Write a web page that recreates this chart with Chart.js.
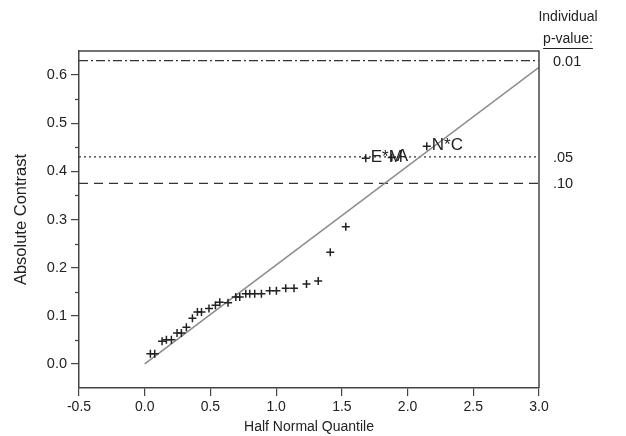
<!DOCTYPE html>
<html>
<head>
<meta charset="utf-8">
<script src="https://cdn.jsdelivr.net/npm/chart.js@4"></script>
<style>
html,body{margin:0;padding:0;background:#fff}
#wrap{width:626px;height:436px}
</style>
</head>
<body>
<div id="wrap"><canvas id="halfNormal"></canvas></div>
<script>
// contrast estimates vs half normal quantiles
const quantiles = [0.043,0.076,0.132,0.165,0.203,0.246,0.279,0.317,0.363,0.401,0.432,0.489,0.538,0.571,0.634,0.693,0.723,0.769,0.799,0.837,0.888,0.951,1.002,1.073,1.136,1.231,1.320,1.412,1.530,1.682,1.880,2.146]
const contrasts = [0.021,0.021,0.047,0.050,0.050,0.064,0.064,0.076,0.095,0.108,0.108,0.115,0.122,0.128,0.127,0.139,0.139,0.146,0.146,0.146,0.146,0.152,0.152,0.157,0.157,0.166,0.172,0.232,0.285,0.427,0.429,0.452]
const effectNames = ["","","","","","","","","","","","","","","","","","","","","","","","","","","","","","E*M","A","N*C"]

// reference line through origin
const fitX = [0, 3.0]
const fitY = [0, 0.616]

// individual p-value cutoffs
const cutLabels = ["0.01", ".05", ".10"]
const cutValues = [0.630, 0.430, 0.375]
const cutDash = [[9,3,2,3],[2,3],[9,6]]

const xTicks = [-0.5,0.0,0.5,1.0,1.5,2.0,2.5,3.0]
const yTicks = [0.0,0.1,0.2,0.3,0.4,0.5,0.6]
const yMinorTicks = [0.05,0.15,0.25,0.35,0.45,0.55]

const ink = "#222"
const axisInk = "#444"
const FONT = "'Liberation Sans', Arial, sans-serif"

const points = quantiles.map((q,i)=>({x:q,y:contrasts[i]}))

const datasets = [{
type:"line",
data:fitX.map((x,i)=>({x:x,y:fitY[i]})),
borderColor:"#8c8c8c",
borderWidth:1.6,
pointRadius:0,
order:2
}]

cutValues.forEach((v,i)=>{
datasets.push({
type:"line",
data:[{x:-0.5,y:v},{x:3.0,y:v}],
borderColor:"#333",
borderWidth:1.3,
borderDash:cutDash[i],
pointRadius:0,
order:3
})
})

datasets.push({
type:"scatter",
data:points,
pointStyle:"cross",
pointRadius:4,
borderColor:ink,
borderWidth:1.5,
order:1
})

// frame, minor ticks, cutoff labels and effect names
const extras = {
id:"extras",
afterDraw(chart){
const ctx = chart.ctx
const a = chart.chartArea
const xs = chart.scales.x
const ys = chart.scales.y
ctx.save()
ctx.strokeStyle = axisInk
ctx.lineWidth = 1.5
ctx.beginPath()
ctx.moveTo(a.left, a.top)
ctx.lineTo(a.right, a.top)
ctx.lineTo(a.right, a.bottom)
ctx.stroke()

ctx.lineWidth = 1.2
yMinorTicks.forEach(v=>{
const py = Math.round(ys.getPixelForValue(v))+0.5
ctx.beginPath()
ctx.moveTo(a.left-4, py)
ctx.lineTo(a.left, py)
ctx.stroke()
})

ctx.fillStyle = ink
ctx.font = "14.5px " + FONT
ctx.textBaseline = "middle"
ctx.textAlign = "left"
cutLabels.forEach((t,i)=>{
ctx.fillText(t, a.right+14, ys.getPixelForValue(cutValues[i])+1)
})

ctx.textAlign = "center"
ctx.font = "14px " + FONT
ctx.fillText("Individual", 568, 17)
ctx.fillText("p-value:", 568, 39)
const w = ctx.measureText("p-value:").width
ctx.strokeStyle = ink
ctx.lineWidth = 1
ctx.beginPath()
ctx.moveTo(568-w/2, 48.5)
ctx.lineTo(568+w/2, 48.5)
ctx.stroke()

ctx.textAlign = "left"
ctx.font = "17px " + FONT
effectNames.forEach((name,i)=>{
if(!name) return
ctx.fillText(name, xs.getPixelForValue(quantiles[i])+5, ys.getPixelForValue(contrasts[i])-1)
})
ctx.restore()
}
}

new Chart(document.getElementById("halfNormal"),{
type:"scatter",
data:{datasets:datasets},
options:{
responsive:true,
maintainAspectRatio:false,
animation:false,
layout:{padding:{top:51,right:87,left:0,bottom:0}},
plugins:{legend:{display:false},tooltip:{enabled:false}},
scales:{
x:{
type:"linear",
min:-0.5,
max:3.0,
afterBuildTicks:s=>{s.ticks = xTicks.map(v=>({value:v}))},
afterFit:s=>{s.height = 48},
border:{color:axisInk,width:1.5},
grid:{drawOnChartArea:false,tickLength:8,color:axisInk,lineWidth:1.2},
ticks:{color:ink,padding:3,font:{family:FONT,size:14},callback:v=>v.toFixed(1)},
title:{display:true,text:"Half Normal Quantile",color:ink,font:{family:FONT,size:14},padding:{top:0,bottom:0}}
},
y:{
type:"linear",
min:-0.05,
max:0.65,
afterBuildTicks:s=>{s.ticks = yTicks.map(v=>({value:v}))},
afterFit:s=>{s.width = 79},
border:{color:axisInk,width:1.5},
grid:{drawOnChartArea:false,tickLength:8,color:axisInk,lineWidth:1.2},
ticks:{color:ink,padding:4,font:{family:FONT,size:14.5},callback:v=>v.toFixed(1)},
title:{display:true,text:"Absolute Contrast",color:ink,font:{family:FONT,size:16.5},padding:{top:12,bottom:0}}
}
}
},
plugins:[extras]
})
</script>
</body>
</html>
